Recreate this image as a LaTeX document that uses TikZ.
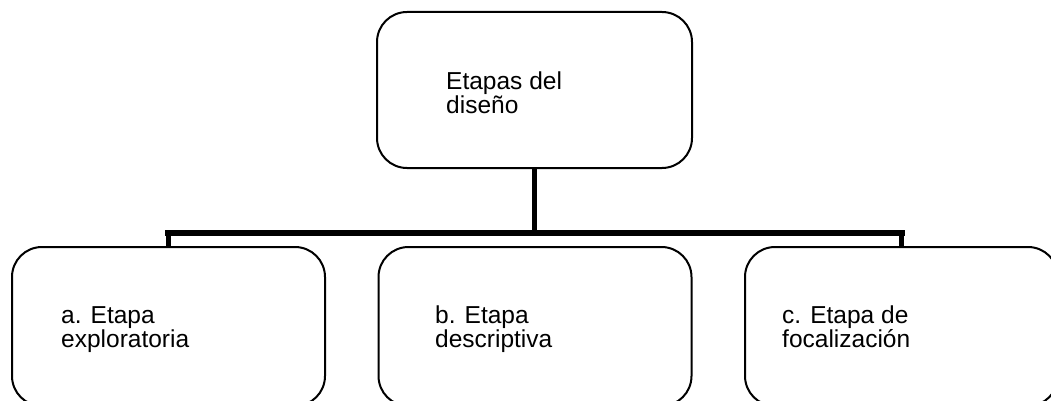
\documentclass[tikz,border=0pt]{standalone}
\usepackage{fontspec}
\setmainfont{Liberation Sans}
\begin{document}
\begin{tikzpicture}[x=1pt,y=-1pt,
  stagebox/.style={draw=black,line width=2pt,rounded corners=30pt,minimum width=#1,inner sep=0pt},
  lbl/.style={inner sep=0pt,align=left,font=\fontsize{24.5}{17.5}\selectfont,anchor=base west},
  stem/.style={line width=5pt},
  crossbar/.style={line width=6.5pt,line cap=rect}
]
\useasboundingbox (0,0) rectangle (1051,401);
\clip (0,0) rectangle (1051,401);
\node[stagebox=315pt,minimum height=156pt] (top) at (534.5,90) {};
\node[stagebox=313pt,minimum height=159pt] (left) at (168.5,326.5) {};
\node[stagebox=313pt,minimum height=159pt] (mid) at (535,326.5) {};
\node[stagebox=313pt,minimum height=159pt] (right) at (901.5,326.5) {};
\coordinate (j) at (534.5,233);
\draw[stem] (top.south) -- (j);
\draw[stem] (left.north) -- (left.north |- j);
\draw[stem] (right.north) -- (right.north |- j);
\draw[crossbar] (left.north |- j) -- (right.north |- j);
\node[lbl] (ttop) at (446,113.5) {Etapas del\\diseño};
\node[lbl] (tleft) at (61,347.5) {a. Etapa\\exploratoria};
\node[lbl] (tmid) at (435,347.5) {b. Etapa\\descriptiva};
\node[lbl] (tright) at (782,347.5) {c. Etapa de\\focalización};
\end{tikzpicture}
\end{document}
